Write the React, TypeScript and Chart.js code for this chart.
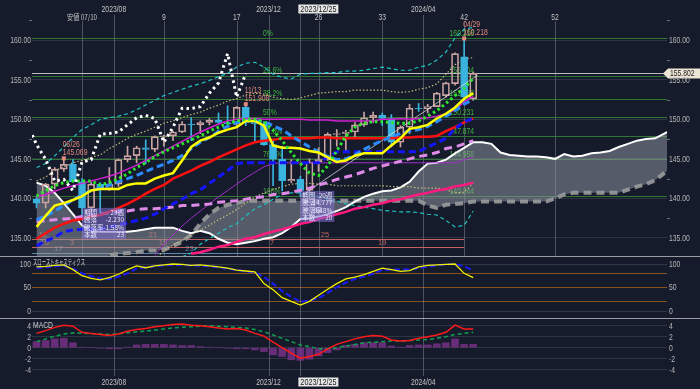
import React, { useEffect, useRef } from "react";
import { Chart, registerables } from "chart.js";
Chart.register(...registerables);

const BG = "#151b2b";
const FONT = '"Liberation Sans", "DejaVu Sans", sans-serif';
const JFONT = '"Noto Sans CJK JP", sans-serif';
const TICK = "#b8b8b8";

// ---------- data (weekly, index 0 = week of 2023/07/10) ----------
const weeks = [-5,-4,-3,-2,-1,0,1,2,3,4,5,6,7,8,9,10,11,12,13,14,15,16,17,18,19,20,21,22,23,24,25,26,27,28,29,30,31,32,33,34,35,36,37,38,39,40,41,42,43];
const opens = [139.9,139.4,141.8,143.7,144.3,142.1,138.8,141.8,141.2,141.8,144.9,145.4,146.4,146.2,147.8,147.9,148.4,149.4,149.3,149.6,149.9,149.6,149.4,151.5,149.6,149.4,146.8,144.95,142.2,142.4,141.0,144.6,144.9,148.1,148.2,148.4,149.3,150.2,150.5,150.1,147.1,149.0,151.4,151.35,151.6,153.0,154.5,157.9,152.6];
const highs = [140.2,141.9,143.9,145.069,144.9,142.5,142.0,142.0,143.9,145.0,146.6,146.6,147.4,147.9,148.0,148.5,149.7,150.2,149.8,150.1,150.8,151.7,151.6,151.908,149.8,149.7,147.5,146.6,144.9,142.8,145.0,146.4,148.3,148.7,148.6,149.6,150.9,150.9,150.8,150.6,149.2,151.9,152.0,151.9,153.4,154.7,158.4,160.218,155.95];
const lows = [138.8,138.8,141.2,143.4,142.1,137.24,137.7,138.1,141.0,141.5,144.6,144.5,144.4,145.9,146.6,147.3,148.3,147.3,148.2,149.3,149.3,149.2,149.2,149.2,147.2,146.7,141.6,140.95,142.0,140.25,140.8,143.4,144.8,146.6,145.9,147.6,149.1,149.6,149.2,146.5,146.5,148.2,151.0,150.8,151.6,152.8,154.3,151.86,152.4];
const closes = [139.4,141.8,143.7,144.3,142.1,138.8,141.8,141.2,141.8,144.9,145.4,146.4,146.2,147.8,147.9,148.4,149.4,149.3,149.6,149.9,149.6,149.4,151.5,149.6,149.4,146.8,144.95,142.2,142.4,141.0,144.6,144.9,148.1,148.2,148.4,149.3,150.2,150.5,150.1,147.1,149.0,151.4,151.35,151.6,153.3,154.6,158.3,152.8,155.8];

const convLine = [136.4,137.8,139.1,139.4,139.8,140.3,141.0,141.2,141.2,141.2,141.7,141.9,141.9,142.5,142.9,143.2,144.8,146.5,147.3,147.7,148.3,148.7,149.0,149.8,149.8,149.2,146.7,146.4,146.4,146.3,146.0,145.8,145.2,144.6,144.8,145.4,145.7,145.7,145.7,146.7,147.6,148.8,149.0,149.3,150.1,150.7,151.5,152.6,153.3];
const ma26 = [134.9,135.6,136.3,136.8,137.2,137.4,137.7,137.9,138.3,138.8,139.3,139.9,140.6,141.2,141.7,142.5,143.0,143.5,144.1,144.6,145.2,145.7,146.2,146.7,147.1,147.3,147.4,147.6,147.6,147.6,147.6,147.7,147.7,147.6,147.6,147.6,147.6,147.6,147.6,147.6,147.7,147.7,147.8,147.8,147.9,148.5,149.0,149.6,150.1];
const baseLine = [134.0,134.6,135.1,135.8,136.0,136.1,136.1,136.1,136.4,136.6,136.9,137.2,137.5,138.0,138.7,139.3,139.9,140.6,141.1,141.9,142.7,143.5,144.4,144.5,144.5,144.5,144.5,144.5,144.5,144.5,144.5,144.5,145.2,145.9,145.9,145.9,145.9,145.9,145.9,145.9,145.9,145.9,145.9,146.5,147.0,147.6,148.8,149.7,150.1];
const ma13 = [137.3,137.8,138.4,139.1,139.8,140.5,141.0,141.3,141.7,142.1,142.5,142.9,143.4,143.9,144.3,144.8,145.4,146.3,147.1,147.7,148.5,149.1,149.6,149.8,149.8,149.7,149.2,148.7,147.9,147.2,146.5,145.9,145.3,144.9,145.0,145.5,146.2,146.8,147.3,147.8,148.2,148.5,148.7,149.1,149.7,150.4,151.1,151.9,152.5];
const ma9 = [140.3,141.0,141.6,142.0,142.2,142.2,142.2,141.7,142.0,142.5,143.1,143.9,144.5,145.3,145.9,146.4,146.9,147.4,147.9,148.5,149.0,149.5,149.8,150.0,150.0,149.7,148.6,147.3,145.8,144.4,143.2,142.9,144.1,146.0,147.9,149.0,149.5,149.7,149.7,149.6,149.5,149.5,149.8,150.4,151.1,152.0,153.0,153.9,155.2];
const bbMid = [140.2,140.5,140.9,141.3,141.6,141.9,142.2,142.5,142.8,143.2,143.7,144.2,144.8,145.4,146.0,146.6,147.2,147.8,148.4,148.9,149.4,149.8,150.0,150.1,150.1,150.0,150.0,150.0,150.0,150.0,149.9,149.9,149.9,149.8,149.8,149.8,149.8,149.8,150.0,150.0,150.1,150.0,150.1,150.2,150.4,150.7,151.2,152.2,152.9];
const ma52 = [137.0,137.2,137.3,137.4,137.5,137.7,137.8,138.0,138.2,138.3,138.4,138.6,138.7,138.7,138.8,138.9,139.1,139.1,139.2,139.3,139.5,139.6,139.7,139.9,140.1,140.2,140.5,140.6,140.8,141.0,141.3,141.7,142.0,142.4,142.7,143.0,143.4,143.8,144.1,144.4,144.7,145.0,145.3,145.5,145.8,146.3,146.5,146.9,147.3];
const longMa = [null,null,null,null,null,null,null,null,null,null,null,null,null,null,null,null,null,133.0,133.2,133.5,133.9,134.1,134.5,134.9,135.1,135.5,135.8,136.1,136.4,136.8,137.0,137.4,137.7,138.0,138.3,138.7,138.9,139.2,139.4,139.7,139.9,140.2,140.5,140.7,141.0,141.2,141.5,141.7,142.0];
const midLine = [null,null,null,null,null,null,null,null,null,null,null,null,null,132.8,134.2,135.4,136.5,137.5,138.4,139.3,140.2,141.0,141.8,142.6,143.3,144.0,144.4,144.5,144.5,144.5,144.5,144.5,144.5,144.5,144.5,144.5,144.5,144.5,144.5,144.5,144.5,144.5,144.5,144.5,144.5,144.5,144.5,144.9,145.2];
const bbUp2 = [143.9,144.4,145.4,146.5,147.7,148.7,149.3,150.0,150.2,150.4,150.7,151.2,151.8,152.4,153.0,153.4,153.8,154.2,154.5,154.9,155.4,155.8,156.6,157.1,157.2,156.6,155.7,155.3,155.1,155.7,155.8,155.8,155.9,155.9,156.1,156.1,156.2,156.4,156.6,156.4,156.2,156.2,156.6,156.8,157.5,158.5,160.3,161.4,161.6];
const bbUp1 = [142.2,142.7,143.5,144.0,144.5,144.8,145.2,145.5,146.3,146.9,147.6,148.1,148.5,149.0,149.5,149.8,150.2,150.6,150.9,151.4,151.8,152.3,152.6,153.1,153.3,153.2,152.8,152.6,152.5,152.7,153.0,153.3,153.4,153.5,153.5,153.7,153.7,153.7,153.7,153.5,153.4,153.5,153.8,154.0,154.5,155.7,156.9,157.6,157.8];
const bbLo1 = [null,null,null,null,null,null,null,null,null,null,null,null,null,132.3,133.4,134.1,134.7,135.4,136.0,136.6,137.3,137.9,138.6,139.4,140.2,140.7,141.1,141.5,141.8,141.9,141.9,141.8,141.8,141.6,141.6,141.6,141.6,141.6,141.6,141.5,141.5,141.5,141.3,141.3,141.3,141.1,140.7,140.8,141.9];
const bbLo2 = [null,null,null,null,null,null,null,null,null,null,null,null,null,null,null,null,132.6,133.1,134.2,134.9,135.6,136.3,136.8,137.8,138.7,139.2,139.9,140.5,140.7,140.7,140.5,140.2,139.9,139.7,139.3,139.1,138.9,138.7,138.5,138.4,138.3,138.3,138.2,138.0,137.9,137.2,136.4,136.6,138.4];

const lagWeeks = [-6,-5,-4,-3,-2,-1,0,1,2,3,4,5,6,7,8,9,10,11,12,13,14,15,16,17,18];
const lagSpan = [149.4,146.8,144.95,142.2,142.4,141.0,144.6,144.9,148.1,148.2,148.4,149.3,150.2,150.5,150.1,147.1,149.0,151.4,151.35,151.6,153.3,154.6,158.3,152.8,155.8];

const spanWeeks = [-5,-4,-3,-2,-1,0,1,2,3,4,5,6,7,8,9,10,11,12,13,14,15,16,17,18,19,20,21,22,23,24,25,26,27,28,29,30,31,32,33,34,35,36,37,38,39,40,41,42,43,44,45,46,47,48,49,50,51,52,53,54,55,56,57,58,59,60,61,62,63,64,65];
const spanA = [142.0,141.6,140.7,139.4,138.0,136.6,135.9,135.8,135.8,135.8,135.8,135.9,136.1,136.3,136.3,136.3,135.9,135.6,135.9,135.6,134.9,134.4,134.2,134.4,134.6,134.9,135.1,135.6,136.4,137.4,137.5,137.7,138.0,138.4,138.9,139.6,140.2,140.6,140.9,141.0,141.4,142.1,143.4,144.4,144.5,144.9,145.7,146.4,147.1,147.1,146.9,145.8,145.5,145.4,145.3,145.3,145.2,145.0,145.6,145.3,145.4,145.7,145.8,146.0,146.5,146.9,147.3,147.5,147.6,148.2,148.8];
const spanB = [131.5,131.5,131.5,131.5,131.5,131.5,131.5,131.5,132.8,133.0,133.1,133.2,133.4,133.4,133.5,134.0,134.5,135.4,136.8,138.0,138.8,139.2,139.4,139.7,139.7,139.7,139.7,139.7,139.7,139.7,139.7,139.7,139.7,139.7,139.7,139.7,139.7,139.7,139.7,139.7,139.7,139.7,139.7,139.1,138.8,139.2,139.3,139.4,139.6,139.6,139.6,139.6,139.6,139.6,139.6,139.6,139.6,140.0,140.5,140.7,140.7,140.7,140.7,140.7,140.7,141.1,141.5,141.8,142.3,143.2,144.1];

const trendWeeks = [24, 43.5];
const trendValues = [140.25, 155.6];

const stochK = [94,95,97,98,88,75,69,66,71,78,88,96,92,96,98,100,99,97,98,96,94,91,87,85,83,58,45,28,20,12,20,33,46,58,68,72,77,84,91,88,84,86,94,97,98,99,100,80,71];
const stochD = [91,93,95,96,90,80,74,69,68,73,80,90,93,95,97,98,98,97,96,95,93,90,87,84,82,72,58,42,30,19,22,27,38,50,60,68,73,79,87,88,88,89,91,94,97,99,100,95,86];

const macdLine = [2.6,3.1,3.7,4.1,3.9,2.8,2.6,2.4,2.2,2.5,3.0,3.3,3.5,3.8,4.0,4.2,4.3,4.1,4.0,3.8,3.6,3.4,3.5,3.2,2.6,2.1,1.0,0.0,-1.0,-1.9,-1.6,-1.2,-0.2,0.6,1.1,1.6,2.0,2.2,2.1,1.4,1.2,1.3,1.7,2.0,2.3,2.8,4.1,3.4,3.4];
const signalLine = [1.1,1.6,2.1,2.5,2.7,2.6,2.6,2.5,2.4,2.5,2.7,2.9,3.0,3.2,3.4,3.6,3.7,3.8,3.9,4.0,3.9,3.8,3.7,3.6,3.3,2.9,2.3,1.7,1.1,0.5,0.2,-0.2,-0.2,0.0,0.3,0.6,0.9,1.0,1.1,1.2,1.2,1.3,1.4,1.5,1.7,2.0,2.4,2.6,2.8];
const macdHist = [1.1,1.3,1.6,1.7,0.9,0.1,0.0,-0.1,-0.2,-0.2,0.1,0.5,0.6,0.6,0.6,0.5,0.4,0.4,0.2,0.1,0.0,-0.1,-0.2,-0.2,-0.4,-0.7,-1.3,-1.6,-2.2,-2.3,-2.1,-1.5,-0.9,-0.4,0.4,0.6,0.9,0.9,0.9,0.3,0.1,0.4,0.5,0.5,0.7,0.9,1.6,0.6,0.6];

const priceTicks = [135, 140, 145, 150, 155, 160];
const priceMinorTicks = [137.5, 142.5, 147.5, 152.5, 157.5, 162.5];
const stochTicks = [0, 50, 100];
const macdTicks = [-4, -2, 0, 2, 4];

const fibPrices = [160.218, 155.504, 152.588, 150.231, 147.874, 144.958, 140.244];
const fibPercent = ["0%", "23.6%", "38.2%", "50%", "61.8%", "76.4%", "100%"];

const weekMarks = [0, 9, 17, 26, 33, 42, 52];
const weekMarkLabels = ["安値 07/10", "9", "17", "26", "33", "42", "52"];
const monthMarks = [3.5, 20.5, 37.5];
const monthLabels = ["2023/08", "2023/12", "2024/04"];
const cursorWeek = 24;
const cursorLabel = "2023/12/25";

const highMarks = [
  { w: -2, v: 145.069, d: "06/26" },
  { w: 18, v: 151.908, d: "11/13" },
  { w: 42, v: 160.218, d: "04/29" },
];
const lastPrice = 155.802;

const box1 = [["期間", "23週"], ["騰落", "-2.230"], ["騰落率", "-1.58%"], ["本数", "23"]];
const box2 = [["期間", "20週"], ["騰落", "14.777"], ["騰落率", "9.48%"], ["本数", "20"]];

// ---------- helpers ----------
const XMIN = -5.5, XMAX = 64.3;
const DOWN = "#3bb3df";
const UPB = "#c9a2a2";
const SALMON = "#e58a7e";
const CLOUD = "rgba(150,155,165,0.5)";

const pts = (xs: number[], ys: (number | null)[]) => xs.map((x, i) => ({ x, y: ys[i] }));

function lineDs(ys: (number | null)[], color: string, width: number, dash: number[], order: number, xs: number[] = weeks, extra: any = {}) {
  return {
    type: "line", data: pts(xs, ys), borderColor: color, backgroundColor: color, borderWidth: width,
    borderDash: dash, pointRadius: 0, tension: 0, fill: false, order, spanGaps: false, ...extra,
  };
}

function xAxis() {
  return { type: "linear", min: XMIN, max: XMAX, display: false, offset: false };
}

function yAxis(pos: "left" | "right", min: number, max: number, ticks: number[], grid: boolean) {
  return {
    type: "linear", position: pos, min, max,
    afterFit(s: any) { s.width = pos === "left" ? 32 : 33; s.paddingTop = 0; s.paddingBottom = 0; },
    afterBuildTicks(s: any) { s.ticks = ticks.map((v) => ({ value: v })); },
    ticks: { display: false },
    grid: grid ? { color: "rgba(255,255,255,0.11)", drawTicks: false, lineWidth: 1 } : { display: false, drawTicks: false },
    border: { display: false },
  };
}

const c5 = (v: number) => Math.round(v) + 0.5;
function hl(ctx: any, x0: number, x1: number, y: number) { ctx.beginPath(); ctx.moveTo(x0, y); ctx.lineTo(x1, y); ctx.stroke(); }
function vl(ctx: any, x: number, y0: number, y1: number) { ctx.beginPath(); ctx.moveTo(x, y0); ctx.lineTo(x, y1); ctx.stroke(); }

// narrow text: squeeze horizontally
function nText(ctx: any, t: string, x: number, y: number, sq = 0.8) {
  const w = ctx.measureText(t).width;
  ctx.fillText(t, x, y, w * sq);
}

function drawAxisLabels(chart: any, ticks: number[], fmt: (v: number) => string, minor: number[] = []) {
  const { ctx, chartArea: ca, scales } = chart;
  const ys = scales.y;
  ctx.save();
  ctx.font = `8.5px ${FONT}`;
  ctx.fillStyle = TICK;
  ctx.textBaseline = "middle";
  ticks.forEach((v) => {
    const y = ys.getPixelForValue(v) + 0.5;
    ctx.textAlign = "right";
    nText(ctx, fmt(v), ca.left - 1, y);
    ctx.textAlign = "left";
    nText(ctx, fmt(v), ca.right + 2, y);
  });
  ctx.strokeStyle = "rgba(170,170,170,0.6)";
  ctx.lineWidth = 1;
  minor.forEach((v) => {
    const y = c5(ys.getPixelForValue(v));
    hl(ctx, ca.left - 3, ca.left, y);
    hl(ctx, ca.right, ca.right + 3, y);
  });
  ctx.restore();
}

function drawCursorBox(ctx: any, x: number, y: number) {
  ctx.fillStyle = "#e6e6e6";
  ctx.fillRect(x - 2, y, 40, 9);
  ctx.fillStyle = "#1a1a1a";
  ctx.font = `8.5px ${FONT}`;
  ctx.textAlign = "left";
  ctx.textBaseline = "middle";
  nText(ctx, cursorLabel, x, y + 4.8, 0.85);
}

function drawInfoBox(ctx: any, x: number, y: number, w: number, rows: string[][]) {
  const rh = 7.4;
  ctx.fillStyle = "rgba(128,112,210,0.55)";
  ctx.fillRect(x, y, w, rows.length * rh + 1.5);
  ctx.font = `6.5px ${JFONT}`;
  ctx.fillStyle = "#e8e6ff";
  ctx.textBaseline = "middle";
  rows.forEach((r, i) => {
    const yy = y + rh * i + rh / 2 + 0.8;
    ctx.textAlign = "left";
    ctx.fillText(r[0], x + 2, yy);
    ctx.textAlign = "right";
    ctx.fillText(r[1], x + w - 2, yy);
  });
}

const mainPlugin = {
  id: "mainDecor",
  beforeDatasetsDraw(chart: any) {
    const { ctx, chartArea: ca, scales } = chart;
    const xs = scales.x, ys = scales.y;
    ctx.save();
    ctx.lineWidth = 1;
    ctx.strokeStyle = "rgba(170,175,190,0.38)";
    weekMarks.forEach((w) => vl(ctx, c5(xs.getPixelForValue(w)), 21, ca.bottom));
    monthMarks.forEach((w) => vl(ctx, c5(xs.getPixelForValue(w)), 15, ca.bottom));
    vl(ctx, c5(xs.getPixelForValue(cursorWeek)), 14, ca.bottom);

    // fibonacci lines
    ctx.strokeStyle = "rgba(52,130,52,0.9)";
    fibPrices.forEach((p) => hl(ctx, ca.left, ca.right, c5(ys.getPixelForValue(p))));
    ctx.font = `8.5px ${FONT}`;
    ctx.fillStyle = "#3db43d";
    ctx.textBaseline = "bottom";
    ctx.textAlign = "left";
    fibPrices.forEach((p, i) => {
      const y = ys.getPixelForValue(p) - 0.5;
      nText(ctx, fibPercent[i], xs.getPixelForValue(19.9), y);
      nText(ctx, p.toFixed(3), xs.getPixelForValue(40.4), y);
    });

    // last price line
    ctx.strokeStyle = "rgba(215,215,215,0.85)";
    hl(ctx, ca.left, ca.right, c5(ys.getPixelForValue(lastPrice)));

    // time-count lines
    const cl = [
      { p: 134.85, a: XMIN, b: 42, c: "rgba(225,110,105,0.85)", t: [[-4.3, "12"], [7.8, "21"], [26.7, "25"]] },
      { p: 133.9, a: XMIN, b: 42, c: "rgba(225,110,105,0.85)", t: [[-4.1, "15"], [-1.1, "3"], [8.9, "19"], [20.9, "7"], [33, "19"]] },
      { p: 133.05, a: XMIN, b: 24, c: "rgba(110,165,200,0.8)", t: [[-2.6, "17"], [11.8, "23"]] },
    ];
    ctx.font = `7.5px ${FONT}`;
    cl.forEach((l) => {
      ctx.strokeStyle = l.c;
      const y = c5(ys.getPixelForValue(l.p));
      hl(ctx, xs.getPixelForValue(l.a), xs.getPixelForValue(l.b), y);
      ctx.fillStyle = l.c;
      ctx.textAlign = "center";
      ctx.textBaseline = "bottom";
      l.t.forEach((t: any) => ctx.fillText(t[1], xs.getPixelForValue(t[0]), y - 0.5));
    });
    ctx.restore();
  },
  afterDatasetsDraw(chart: any) {
    const { ctx, chartArea: ca, scales } = chart;
    const xs = scales.x, ys = scales.y;
    ctx.save();
    // high marks
    highMarks.forEach((m) => {
      const x = xs.getPixelForValue(m.w), y = ys.getPixelForValue(m.v);
      ctx.fillStyle = SALMON;
      ctx.fillRect(x - 2, y - 2, 4, 4);
      ctx.font = `8.5px ${FONT}`;
      ctx.textAlign = "left";
      ctx.textBaseline = "middle";
      nText(ctx, m.d, x - 1, y - 13.5);
      nText(ctx, m.v.toFixed(3), x - 1, y - 5.5);
    });
    // info boxes
    drawInfoBox(ctx, xs.getPixelForValue(0), ys.getPixelForValue(138.8), 44, box1);
    drawInfoBox(ctx, xs.getPixelForValue(24), ys.getPixelForValue(140.95), 34, box2);

    // last price tag
    const py = ys.getPixelForValue(lastPrice);
    ctx.fillStyle = "#ece4d4";
    ctx.beginPath();
    ctx.moveTo(ca.right - 4, py);
    ctx.lineTo(ca.right + 1, py - 5);
    ctx.lineTo(700, py - 5);
    ctx.lineTo(700, py + 5);
    ctx.lineTo(ca.right + 1, py + 5);
    ctx.closePath();
    ctx.fill();
    ctx.restore();

    drawAxisLabels(chart, priceTicks, (v) => v.toFixed(2), priceMinorTicks);

    ctx.save();
    ctx.fillStyle = "#202020";
    ctx.font = `8.5px ${FONT}`;
    ctx.textAlign = "left";
    ctx.textBaseline = "middle";
    nText(ctx, lastPrice.toFixed(3), ca.right + 3, py + 0.5);

    // top labels
    ctx.fillStyle = "#c4c4c4";
    ctx.textAlign = "center";
    weekMarks.forEach((w, i) => {
      if (i === 0) { ctx.font = `7.5px ${JFONT}`; ctx.fillText(weekMarkLabels[i], xs.getPixelForValue(w), 17.5, 30); ctx.font = `8.5px ${FONT}`; }
      else nText(ctx, weekMarkLabels[i], xs.getPixelForValue(w), 17.5);
    });
    monthMarks.forEach((w, i) => nText(ctx, monthLabels[i], xs.getPixelForValue(w), 10));
    drawCursorBox(ctx, xs.getPixelForValue(cursorWeek), 4.5);
    ctx.restore();
  },
};

function makeSubPlugin(kind: "stoch" | "macd") {
  return {
    id: kind + "Decor",
    beforeDatasetsDraw(chart: any) {
      const { ctx, chartArea: ca, scales } = chart;
      const xs = scales.x, ys = scales.y;
      ctx.save();
      ctx.lineWidth = 1;
      if (kind === "stoch") {
        ctx.strokeStyle = "rgba(255,255,255,0.12)";
        [0, 100].forEach((v) => hl(ctx, ca.left, ca.right, c5(ys.getPixelForValue(v))));
        ctx.strokeStyle = "rgba(175,100,30,0.75)";
        [20, 50, 80].forEach((v) => hl(ctx, ca.left, ca.right, c5(ys.getPixelForValue(v))));
      }
      ctx.strokeStyle = "rgba(170,175,190,0.38)";
      monthMarks.forEach((w) => vl(ctx, c5(xs.getPixelForValue(w)), ca.top, ca.bottom));
      vl(ctx, c5(xs.getPixelForValue(cursorWeek)), ca.top, ca.bottom);
      ctx.restore();
    },
    afterDraw(chart: any) {
      const { ctx, chartArea: ca, scales } = chart;
      const xs = scales.x;
      drawAxisLabels(chart, kind === "stoch" ? stochTicks : macdTicks, (v) => String(v));
      ctx.save();
      ctx.strokeStyle = "rgba(200,200,205,0.75)";
      ctx.lineWidth = 1;
      hl(ctx, 0, 700, 0.5);
      ctx.fillStyle = "#d0d0d0";
      ctx.textAlign = "left";
      ctx.textBaseline = "middle";
      if (kind === "stoch") {
        ctx.font = `8px ${JFONT}`;
        ctx.fillText("スローストキャスティクス", ca.left + 1, 6, 52);
      } else {
        ctx.font = `8.5px ${FONT}`;
        nText(ctx, "MACD", ca.left + 1, 7.5);
        ctx.fillStyle = "#c4c4c4";
        ctx.textAlign = "center";
        monthMarks.forEach((w, i) => nText(ctx, monthLabels[i], xs.getPixelForValue(w), ca.bottom + 6.5));
        drawCursorBox(ctx, xs.getPixelForValue(cursorWeek), ca.bottom + 1.5);
      }
      ctx.restore();
    },
  };
}

export default function App() {
  const mainRef = useRef<HTMLCanvasElement>(null);
  const stochRef = useRef<HTMLCanvasElement>(null);
  const macdRef = useRef<HTMLCanvasElement>(null);

  useEffect(() => {
    const charts: Chart[] = [];
    const up = opens.map((o, i) => closes[i] >= o);

    // ---------- main ----------
    const ds: any[] = [];
    ds.push(lineDs(lagSpan, "#ffffff", 3, [2.5, 3.5], 1, lagWeeks));
    ds.push(lineDs(ma9, "#2ee82e", 3, [2.5, 3], 2));
    ds.push(lineDs(convLine, "#ffff00", 2.5, [], 3));
    ds.push(lineDs(ma13, "#2a8cff", 3, [7, 4], 4));
    ds.push(lineDs(baseLine, "#1414ff", 3, [7, 4], 5));
    ds.push(lineDs(ma26, "#ff1010", 2.5, [], 6));
    ds.push(lineDs(bbMid, "#d020d0", 1.5, [], 7));
    ds.push(lineDs(longMa, "#ff1a80", 2.5, [], 8));
    ds.push(lineDs(ma52, "#e08ae8", 3, [8, 5], 9));
    ds.push(lineDs(midLine, "#a030c8", 1, [], 10));
    ds.push(lineDs(trendValues, "rgba(225,225,225,0.75)", 1, [], 11, trendWeeks));
    ds.push({
      type: "bar", data: weeks.map((x, i) => ({ x, y: [opens[i], closes[i]] })),
      backgroundColor: up.map((u) => (u ? "rgba(0,0,0,0)" : DOWN)),
      borderColor: up.map((u) => (u ? UPB : DOWN)), borderWidth: 1, borderSkipped: false,
      barThickness: 7, grouped: false, order: 12,
    });
    ds.push({
      type: "bar", data: weeks.map((x, i) => ({ x, y: [lows[i], Math.min(opens[i], closes[i])] })),
      backgroundColor: up.map((u) => (u ? UPB : DOWN)), borderWidth: 0, barThickness: 1, grouped: false, order: 13,
    });
    ds.push({
      type: "bar", data: weeks.map((x, i) => ({ x, y: [Math.max(opens[i], closes[i]), highs[i]] })),
      backgroundColor: up.map((u) => (u ? UPB : DOWN)), borderWidth: 0, barThickness: 1, grouped: false, order: 13,
    });
    ds.push(lineDs(bbUp2, "#1fc2c2", 1.2, [4, 3], 14));
    ds.push(lineDs(bbUp1, "#c4bd7c", 1.2, [1.5, 2], 15));
    ds.push(lineDs(bbLo1, "#c4bd7c", 1.2, [1.5, 2], 16));
    ds.push(lineDs(bbLo2, "#1fc2c2", 1.2, [4, 3], 17));
    const idxB = ds.length;
    ds.push(lineDs(spanB, "#8e8e8e", 4, [8, 5], 20, spanWeeks));
    ds.push(lineDs(spanA, "#ffffff", 2, [], 19, spanWeeks, { fill: { target: idxB, above: CLOUD, below: CLOUD } }));

    const common = {
      responsive: false, animation: false, events: [],
      plugins: { legend: { display: false }, tooltip: { enabled: false } },
    };

    charts.push(new Chart(mainRef.current!, {
      type: "bar",
      data: { datasets: ds },
      options: {
        ...common,
        layout: { padding: 0 },
        scales: {
          x: xAxis(),
          y: yAxis("right", 132.72, 165.08, priceTicks, true),
          yl: yAxis("left", 132.72, 165.08, priceTicks, false),
        },
      } as any,
      plugins: [mainPlugin],
    } as any));

    // ---------- stochastics ----------
    charts.push(new Chart(stochRef.current!, {
      type: "line",
      data: {
        datasets: [
          lineDs(stochK, "#f0f000", 1.3, [], 1),
          lineDs(stochD, "#1a1aff", 2, [6, 3], 2),
        ],
      },
      options: {
        ...common,
        layout: { padding: 0 },
        scales: {
          x: xAxis(),
          y: yAxis("right", -15.6, 117.1, stochTicks, false),
          yl: yAxis("left", -15.6, 117.1, stochTicks, false),
        },
      } as any,
      plugins: [makeSubPlugin("stoch")],
    } as any));

    // ---------- MACD ----------
    charts.push(new Chart(macdRef.current!, {
      type: "bar",
      data: {
        datasets: [
          lineDs(macdLine, "#ff1a1a", 1.5, [], 1),
          lineDs(signalLine, "#10a050", 1.5, [4, 3], 2),
          { type: "bar", data: pts(weeks, macdHist), backgroundColor: "rgba(125,50,140,0.8)", barThickness: 7, grouped: false, order: 3 },
        ],
      },
      options: {
        ...common,
        layout: { padding: { bottom: 13 } },
        scales: {
          x: xAxis(),
          y: yAxis("right", -5.15, 5.4, macdTicks, true),
          yl: yAxis("left", -5.15, 5.4, macdTicks, false),
        },
      } as any,
      plugins: [makeSubPlugin("macd")],
    } as any));

    return () => charts.forEach((c) => c.destroy());
  }, []);

  return (
    <div style={{ position: "fixed", left: 0, top: 0, width: 700, height: 389, background: BG, overflow: "hidden" }}>
      <canvas ref={mainRef} width={700} height={256} style={{ position: "absolute", left: 0, top: 0, width: 700, height: 256 }} />
      <canvas ref={stochRef} width={700} height={62} style={{ position: "absolute", left: 0, top: 256, width: 700, height: 62 }} />
      <canvas ref={macdRef} width={700} height={71} style={{ position: "absolute", left: 0, top: 318, width: 700, height: 71 }} />
    </div>
  );
}
